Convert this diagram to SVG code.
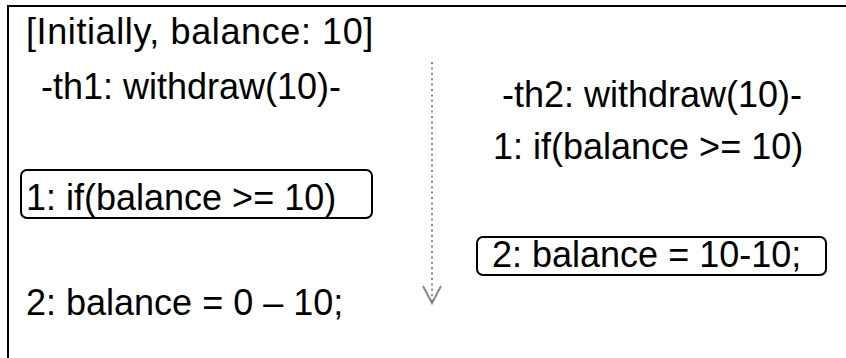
<svg xmlns="http://www.w3.org/2000/svg" width="846" height="358" viewBox="0 0 846 358">
  <style>
    text { font-family: "Liberation Sans", Arial, sans-serif; font-size: 36px; fill: #000; }
    .frame { fill: none; stroke: #000; stroke-width: 2; }
    .step { fill: none; stroke: #000; stroke-width: 2; }
    .flow { fill: none; stroke: #888; stroke-width: 2; }
  </style>
  <rect x="0" y="0" width="846" height="358" fill="#fff"/>
  <!-- outer panel, open on the right and bottom edges -->
  <path class="frame" d="M8,360 V6 H848"/>

  <g id="title">
    <text x="26" y="44" letter-spacing="0.6">[Initially, balance: 10]</text>
  </g>

  <g id="th1-header">
    <text x="41" y="99">-th1: withdraw(10)-</text>
  </g>

  <g id="th1-step1">
    <rect class="step" x="21" y="170" width="351" height="48" rx="6"/>
    <text x="26" y="210">1: if(balance &gt;= 10)</text>
  </g>

  <g id="th1-step2">
    <text x="26" y="315">2: balance = 0 – 10;</text>
  </g>

  <g id="th2-header">
    <text x="502" y="107">-th2: withdraw(10)-</text>
  </g>

  <g id="th2-step1">
    <text x="493" y="159">1: if(balance &gt;= 10)</text>
  </g>

  <g id="th2-step2">
    <rect class="step" x="477" y="237" width="349" height="38" rx="6"/>
    <text x="492" y="267">2: balance = 10-10;</text>
  </g>

  <!-- time axis -->
  <g id="connectors">
    <line class="flow" x1="432" y1="62" x2="432" y2="301" stroke-dasharray="2 3.4"/>
    <polyline class="flow" points="423,286 432,303 441,286"/>
  </g>
</svg>
